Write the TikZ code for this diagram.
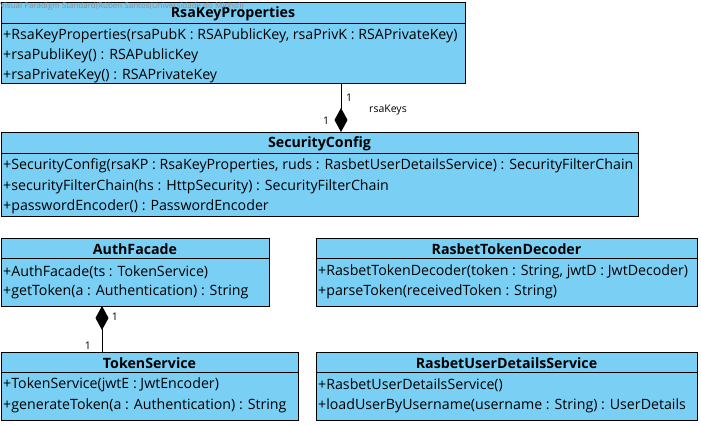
\documentclass[tikz,border=0pt]{standalone}
\usepackage{fontspec}
\setmainfont{Open Sans}
\usetikzlibrary{arrows.meta}
\definecolor{vpblue}{RGB}{122,207,245}
\begin{document}
\begin{tikzpicture}[x=1pt,y=-1pt,
  cls/.style={draw=black, fill=vpblue, line width=0.8pt, anchor=north west, inner sep=0, outer sep=0},
  hdr/.style={font=\fontsize{14.2}{16}\selectfont\bfseries, inner sep=0},
  row/.style={anchor=west, inner sep=0, font=\fontsize{14.2}{16}\selectfont},
  lbl/.style={inner sep=0, font=\fontsize{10.5}{12}\selectfont},
  comp/.style={line width=0.8pt}]
\useasboundingbox (0,0) rectangle (701,425);

% RsaKeyProperties
\node[cls, minimum width=464pt, minimum height=81pt] (rsa) at (1,2) {};
\draw[line width=0.8pt] ([yshift=-21pt]rsa.north west) -- ([yshift=-21pt]rsa.north east);
\node[hdr] (rsaT) at ([yshift=-12pt]rsa.north) {RsaKeyProperties};
\node[row] (rsa1) at ([shift={(2pt,-34pt)}]rsa.north west) {+RsaKeyProperties(rsaPubK : RSAPublicKey, rsaPrivK : RSAPrivateKey)};
\node[row] (rsa2) at ([shift={(2pt,-54pt)}]rsa.north west) {+rsaPubliKey() : RSAPublicKey};
\node[row] (rsa3) at ([shift={(2pt,-74pt)}]rsa.north west) {+rsaPrivateKey() : RSAPrivateKey};

% SecurityConfig
\node[cls, minimum width=637pt, minimum height=84pt] (sec) at (1,132) {};
\draw[line width=0.8pt] ([yshift=-21pt]sec.north west) -- ([yshift=-21pt]sec.north east);
\node[hdr] (secT) at ([yshift=-12pt]sec.north) {SecurityConfig};
\node[row] (sec1) at ([shift={(2pt,-34pt)}]sec.north west) {+SecurityConfig(rsaKP : RsaKeyProperties, ruds : RasbetUserDetailsService) : SecurityFilterChain};
\node[row] (sec2) at ([shift={(2pt,-54.5pt)}]sec.north west) {+securityFilterChain(hs : HttpSecurity) : SecurityFilterChain};
\node[row] (sec3) at ([shift={(2pt,-75pt)}]sec.north west) {+passwordEncoder() : PasswordEncoder};

% AuthFacade
\node[cls, minimum width=268pt, minimum height=68pt] (auth) at (1,238) {};
\draw[line width=0.8pt] ([yshift=-20pt]auth.north west) -- ([yshift=-20pt]auth.north east);
\node[hdr] (authT) at ([yshift=-11.5pt]auth.north) {AuthFacade};
\node[row] (auth1) at ([shift={(2pt,-34pt)}]auth.north west) {+AuthFacade(ts : TokenService)};
\node[row] (auth2) at ([shift={(2pt,-54pt)}]auth.north west) {+getToken(a : Authentication) : String};

% RasbetTokenDecoder
\node[cls, minimum width=381pt, minimum height=68pt] (dec) at (316,238) {};
\draw[line width=0.8pt] ([yshift=-20pt]dec.north west) -- ([yshift=-20pt]dec.north east);
\node[hdr] (decT) at ([yshift=-11.5pt]dec.north) {RasbetTokenDecoder};
\node[row] (dec1) at ([shift={(2pt,-34pt)}]dec.north west) {+RasbetTokenDecoder(token : String, jwtD : JwtDecoder)};
\node[row] (dec2) at ([shift={(2pt,-54pt)}]dec.north west) {+parseToken(receivedToken : String)};

% TokenService
\node[cls, minimum width=297pt, minimum height=68pt] (tok) at (1,352) {};
\draw[line width=0.8pt] ([yshift=-20pt]tok.north west) -- ([yshift=-20pt]tok.north east);
\node[hdr] (tokT) at ([yshift=-11.5pt]tok.north) {TokenService};
\node[row] (tok1) at ([shift={(2pt,-33pt)}]tok.north west) {+TokenService(jwtE : JwtEncoder)};
\node[row] (tok2) at ([shift={(2pt,-54pt)}]tok.north west) {+generateToken(a : Authentication) : String};

% RasbetUserDetailsService
\node[cls, minimum width=381pt, minimum height=68pt] (uds) at (316,352) {};
\draw[line width=0.8pt] ([yshift=-20pt]uds.north west) -- ([yshift=-20pt]uds.north east);
\node[hdr] (udsT) at ([yshift=-11.5pt]uds.north) {RasbetUserDetailsService};
\node[row] (uds1) at ([shift={(2pt,-33pt)}]uds.north west) {+RasbetUserDetailsService()};
\node[row] (uds2) at ([shift={(2pt,-54pt)}]uds.north west) {+loadUserByUsername(username : String) : UserDetails};

% composition rsaKeys
\draw[comp, -{Diamond[length=24pt,width=13pt]}] ([xshift=340pt]rsa.south west) -- ([xshift=340pt]sec.north west);
\node[lbl] (m1) at (349,98) {1};
\node[lbl] (m2) at (326,121) {1};
\node[lbl] (rk) at (388,110) {rsaKeys};

% composition AuthFacade - TokenService
\draw[comp, {Diamond[length=24pt,width=13pt]}-] ([xshift=101pt]auth.south west) -- ([xshift=101pt]tok.north west);
\node[lbl] (m3) at (115,317) {1};
\node[lbl] (m4) at (88,346) {1};

% watermark
\node[anchor=west, inner sep=0, font=\fontsize{8}{9}\selectfont, text=black!45] (wm) at (0,6) {Visual Paradigm Standard(Rúben Santos(Universidade do Minho))};
\end{tikzpicture}
\end{document}
